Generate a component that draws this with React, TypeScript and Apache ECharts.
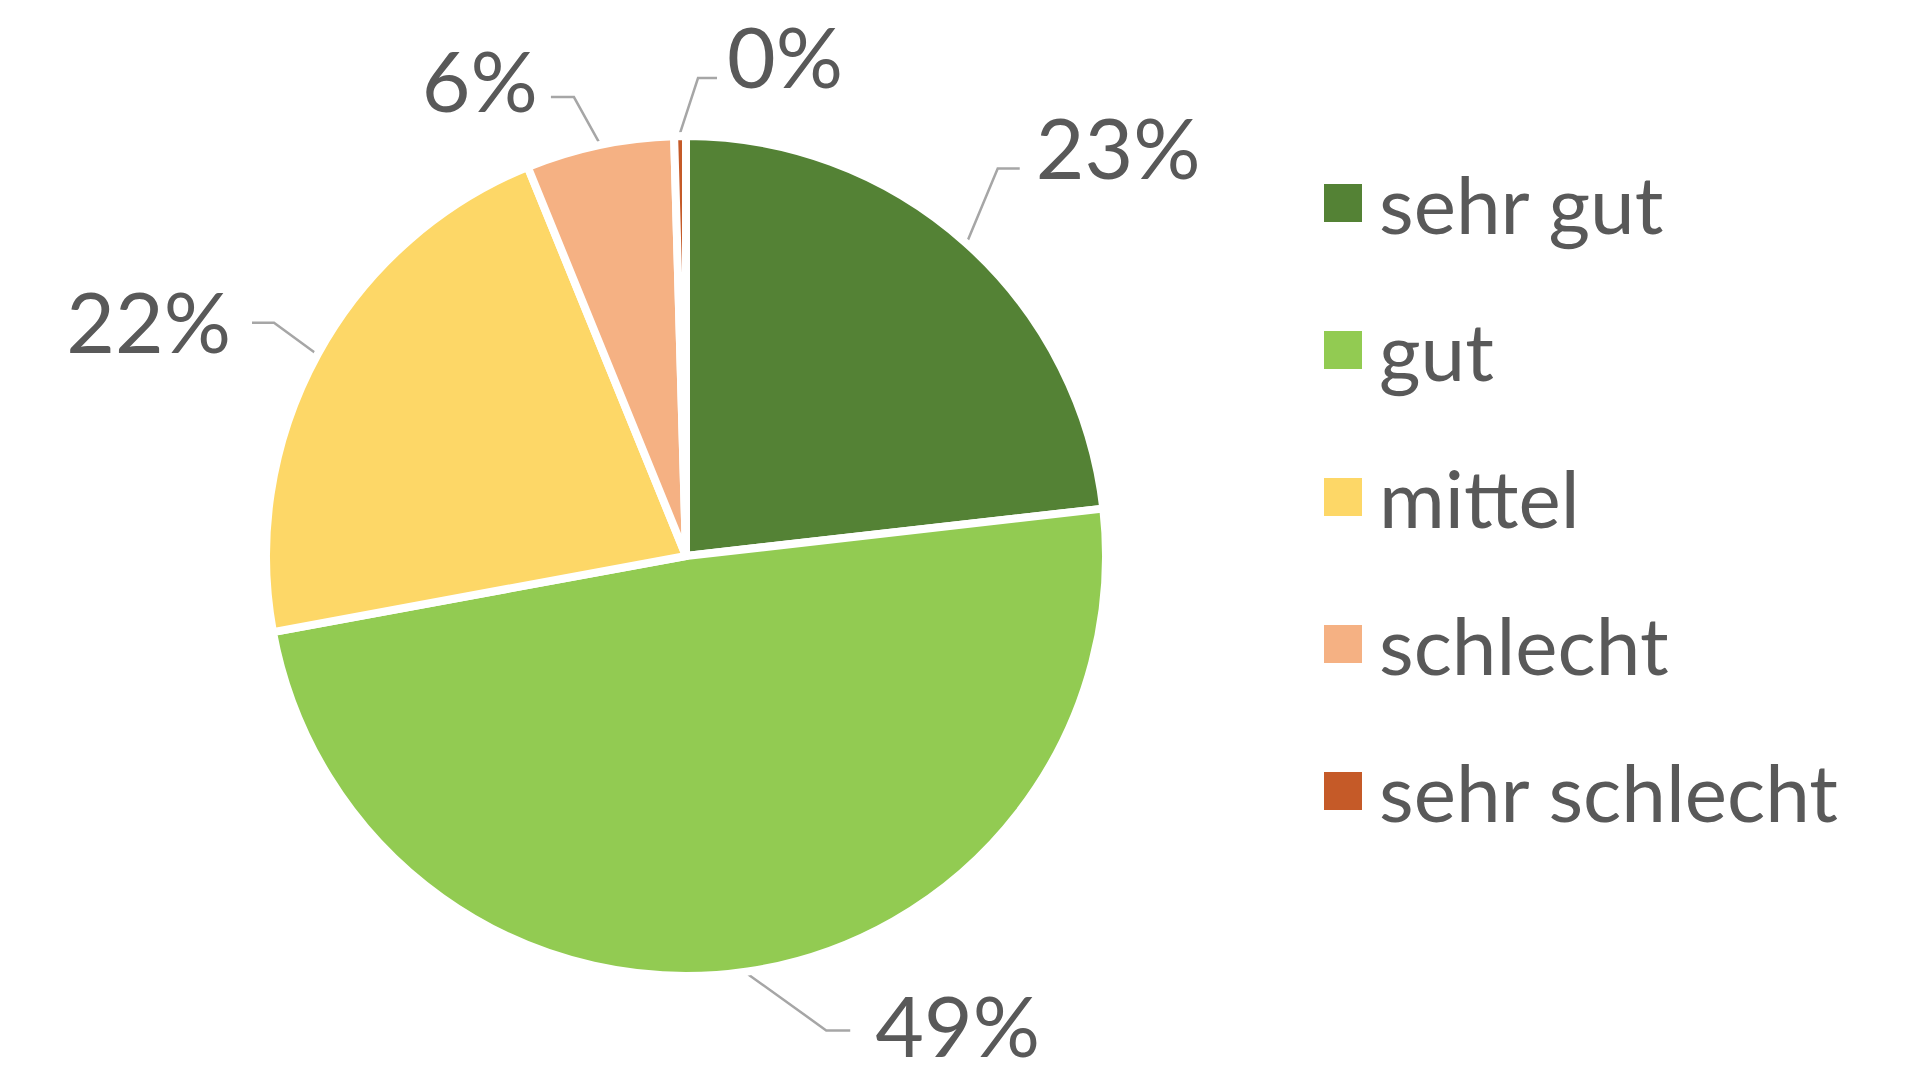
import React, { useEffect, useRef } from "react";
import * as echarts from "echarts";

const categories = ["sehr gut", "gut", "mittel", "schlecht", "sehr schlecht"];
const values = [23.2, 48.9, 21.75, 5.7, 0.45];
const colors = ["#548235", "#92CB52", "#FDD767", "#F5B183", "#C55A28"];

// leader-line styling per label (first segment vector, horizontal segment, text gap, text lift)
const leaderVec = [[30, -72], [78, 56], [-41, -30], [-25, -45], [18, -55]];
const leaderLen2 = [22, 24, 22, 23, 19];
const leaderSide = [1, 1, -1, -1, 1];
const textGap = [16, 25, 21, 13, 10];
const textLift = [22, 6, 2, 18, 23];

const CX = 686;
const CY = 556;
const R = 420;
const FONT = "Lato";

export default function App() {
  const ref = useRef<HTMLDivElement>(null);
  useEffect(() => {
    if (!ref.current) return;
    const chart = echarts.init(ref.current, undefined, { renderer: "svg" });
    const total = values.reduce((a, b) => a + b, 0);
    const cum: number[] = [];
    let acc = 0;
    values.forEach((v) => {
      cum.push(acc);
      acc += v;
    });
    chart.setOption({
      animation: false,
      backgroundColor: "#ffffff",
      legend: {
        orient: "vertical",
        left: 1319,
        top: 149,
        itemWidth: 38,
        itemHeight: 38,
        itemGap: 49,
        icon: "rect",
        selectedMode: false,
        itemStyle: { borderWidth: 0 },
        textStyle: {
          color: "#595959",
          fontSize: 80,
          fontFamily: FONT,
          lineHeight: 90,
          padding: [0, 0, 8, 12],
        },
        data: categories,
      },
      series: [
        {
          type: "pie",
          center: [CX, CY],
          radius: R,
          startAngle: 90,
          clockwise: true,
          avoidLabelOverlap: false,
          silent: true,
          itemStyle: { borderColor: "#ffffff", borderWidth: 8 },
          label: {
            show: true,
            position: "outside",
            color: "#595959",
            fontSize: 84,
            lineHeight: 66,
            fontFamily: FONT,
            formatter: (p: any) => Math.round(p.percent) + "%",
          },
          labelLine: {
            show: true,
            length: 20,
            length2: 20,
            lineStyle: { color: "#A6A6A6", width: 2.5 },
          },
          labelLayout: (params: any) => {
            const i = params.dataIndex;
            const a = (2 * Math.PI * (cum[i] + values[i] / 2)) / total;
            const ux = Math.sin(a);
            const uy = -Math.cos(a);
            const sx = CX + (R + 3) * ux;
            const sy = CY + (R + 3) * uy;
            const ex = sx + leaderVec[i][0];
            const ey = sy + leaderVec[i][1];
            const side = leaderSide[i];
            const fx = ex + side * leaderLen2[i];
            const fy = ey;
            return {
              x: fx + side * textGap[i],
              y: fy - textLift[i],
              align: side > 0 ? "left" : "right",
              verticalAlign: "middle",
              labelLinePoints: [
                [sx, sy],
                [ex, ey],
                [fx, fy],
              ],
            };
          },
          data: categories.map((name, i) => ({
            name,
            value: values[i],
            itemStyle: { color: colors[i] },
          })),
        },
      ],
    });
    return () => chart.dispose();
  }, []);
  return (
    <div
      ref={ref}
      style={{ position: "fixed", left: 0, top: 0, width: 1918, height: 1076, background: "#fff" }}
    />
  );
}
